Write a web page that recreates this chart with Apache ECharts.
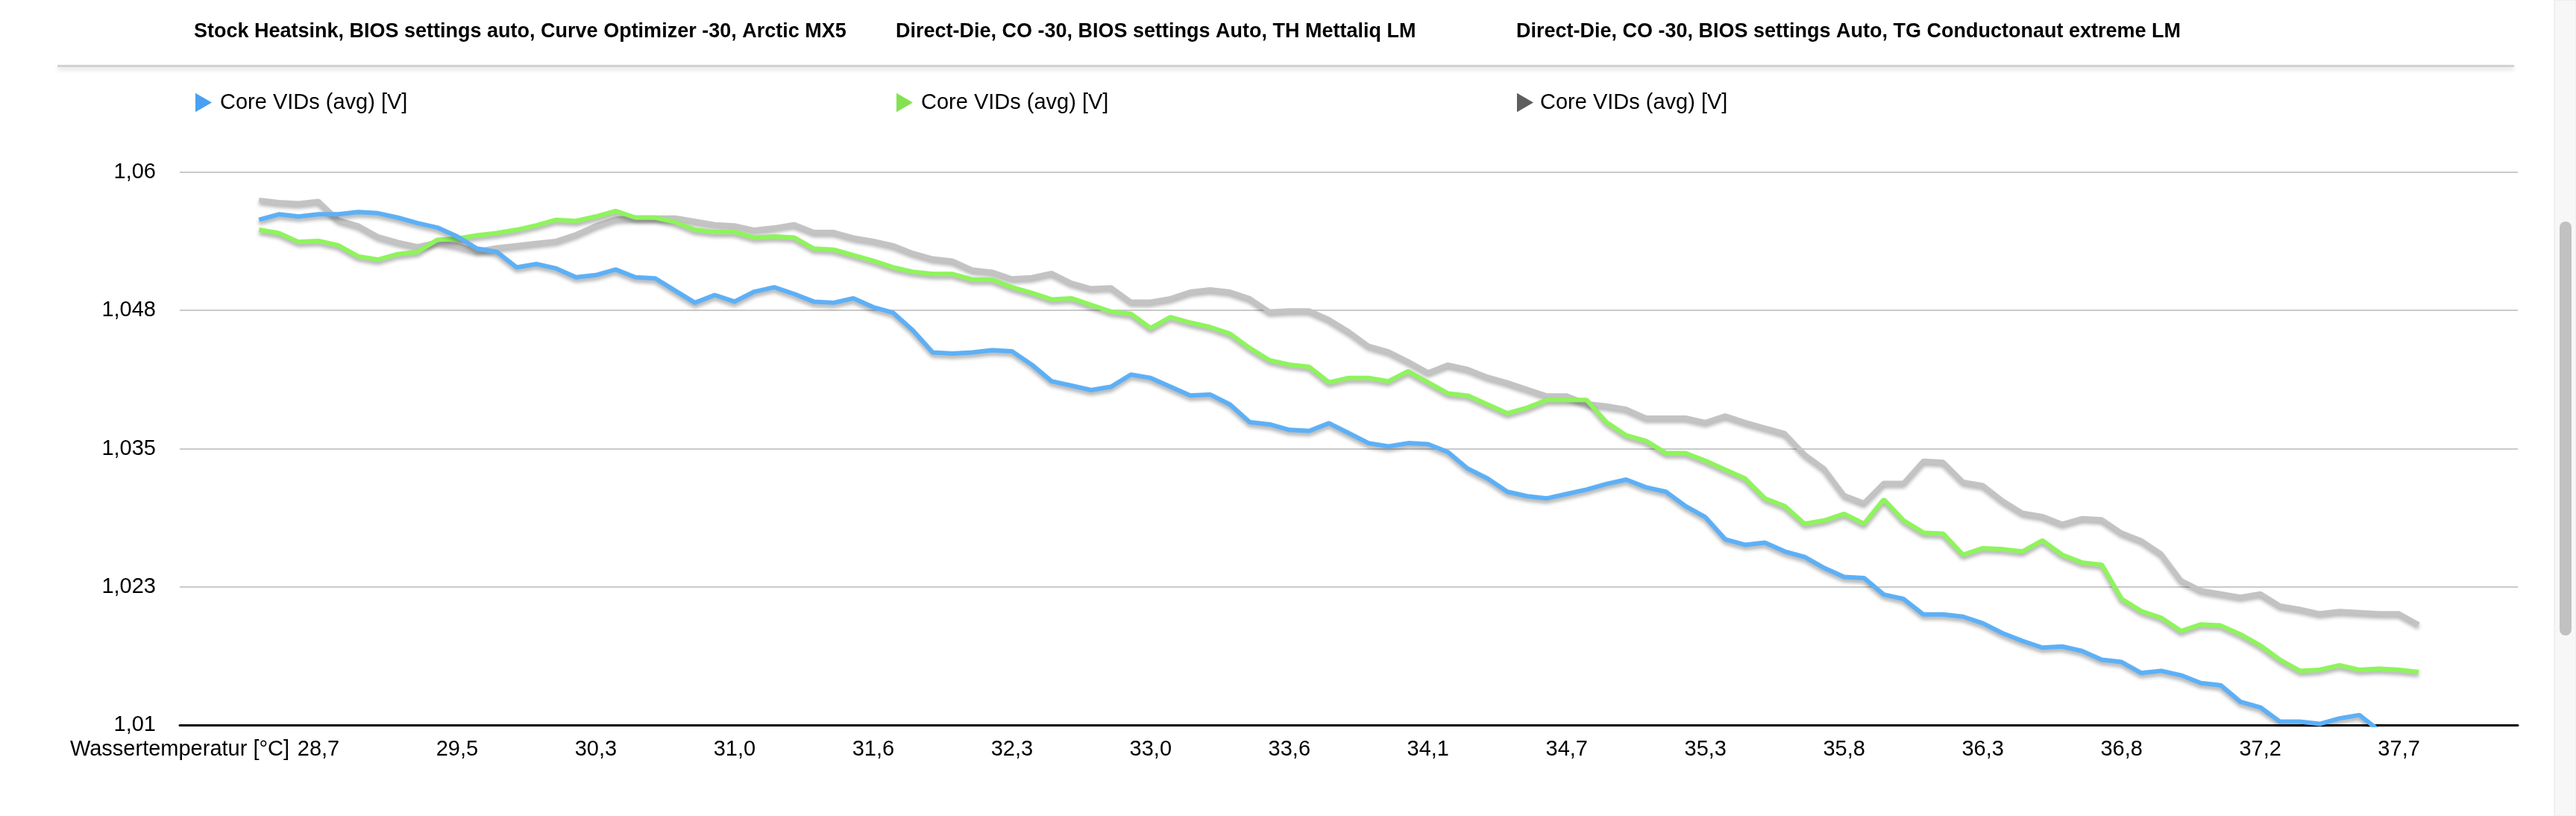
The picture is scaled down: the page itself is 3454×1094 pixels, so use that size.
<!DOCTYPE html>
<html>
<head>
<meta charset="utf-8">
<script src="https://cdn.jsdelivr.net/npm/echarts@6/dist/echarts.min.js"></script>
<style>
  html, body { margin: 0; padding: 0; background: #ffffff; }
  #chart { width: 3454px; height: 1094px; }
</style>
</head>
<body>
<div id="chart"></div>
<script>
// ---------- data ----------
const seriesTitles = [
  'Stock Heatsink, BIOS settings auto, Curve Optimizer -30, Arctic MX5',
  'Direct-Die, CO -30, BIOS settings Auto, TH Mettaliq LM',
  'Direct-Die, CO -30, BIOS settings Auto, TG Conductonaut extreme LM'
];
const legendLabel = 'Core VIDs (avg) [V]';
const xTickLabels = ['Wassertemperatur [°C]', '28,7', '29,5', '30,3', '31,0', '31,6', '32,3', '33,0',
  '33,6', '34,1', '34,7', '35,3', '35,8', '36,3', '36,8', '37,2', '37,7'];
const yTickLabels = ['1,01', '1,023', '1,035', '1,048', '1,06'];
const categoryCount = 119;   // sample slots on the category axis
const labelEvery = 7;        // a temperature label every 7 samples
const firstSample = 4;       // first measured sample slot

// Stock Heatsink, Arctic MX5 (blue)
const stockMX5 = [
  1.0557,1.0562,1.0560,1.0562,1.0562,1.0564,1.0563,1.0559,1.0554,1.0550,
  1.0542,1.0531,1.0528,1.0514,1.0517,1.0513,1.0505,1.0507,1.0512,1.0505,
  1.0504,1.0493,1.0482,1.0489,1.0483,1.0492,1.0496,1.0490,1.0483,1.0482,
  1.0486,1.0478,1.0473,1.0457,1.0437,1.0436,1.0437,1.0439,1.0438,1.0426,
  1.0411,1.0407,1.0403,1.0406,1.0417,1.0414,1.0406,1.0398,1.0399,1.0390,
  1.0374,1.0372,1.0367,1.0366,1.0373,1.0364,1.0355,1.0352,1.0355,1.0354,
  1.0347,1.0332,1.0323,1.0311,1.0307,1.0305,1.0309,1.0313,1.0318,1.0322,
  1.0315,1.0311,1.0298,1.0288,1.0268,1.0263,1.0265,1.0257,1.0252,1.0242,
  1.0234,1.0233,1.0218,1.0214,1.0200,1.0200,1.0198,1.0192,1.0183,1.0176,
  1.0170,1.0171,1.0167,1.0159,1.0157,1.0147,1.0149,1.0145,1.0138,1.0136,
  1.0121,1.0116,1.0103,1.0103,1.0101,1.0106,1.0109,1.0095
];
// Direct-Die, TH Mettaliq LM (green)
const directDieMettaliq = [
  1.0548,1.0545,1.0537,1.0538,1.0534,1.0524,1.0521,1.0526,1.0528,1.0539,
  1.0540,1.0543,1.0545,1.0548,1.0552,1.0557,1.0556,1.0560,1.0565,1.0559,
  1.0559,1.0555,1.0548,1.0546,1.0546,1.0541,1.0542,1.0541,1.0531,1.0530,
  1.0525,1.0520,1.0514,1.0510,1.0508,1.0508,1.0503,1.0503,1.0496,1.0491,
  1.0485,1.0486,1.0480,1.0474,1.0472,1.0459,1.0469,1.0464,1.0460,1.0454,
  1.0441,1.0430,1.0426,1.0424,1.0410,1.0414,1.0414,1.0411,1.0420,1.0410,
  1.0400,1.0398,1.0390,1.0382,1.0387,1.0394,1.0394,1.0394,1.0374,1.0362,
  1.0357,1.0346,1.0346,1.0339,1.0331,1.0323,1.0305,1.0298,1.0282,1.0285,
  1.0291,1.0282,1.0304,1.0285,1.0274,1.0273,1.0254,1.0260,1.0259,1.0257,
  1.0267,1.0254,1.0247,1.0245,1.0214,1.0203,1.0197,1.0185,1.0191,1.0190,
  1.0182,1.0172,1.0159,1.0149,1.0150,1.0154,1.0150,1.0151,1.0150,1.0148
];
// Direct-Die, TG Conductonaut extreme LM (gray)
const directDieConductonaut = [
  1.0575,1.0573,1.0572,1.0574,1.0557,1.0552,1.0542,1.0537,1.0533,1.0537,
  1.0534,1.0529,1.0532,1.0534,1.0536,1.0538,1.0544,1.0552,1.0558,1.0559,
  1.0559,1.0559,1.0556,1.0553,1.0552,1.0548,1.0550,1.0553,1.0546,1.0546,
  1.0541,1.0538,1.0534,1.0527,1.0522,1.0520,1.0512,1.0510,1.0504,1.0505,
  1.0509,1.0500,1.0495,1.0496,1.0483,1.0483,1.0486,1.0492,1.0494,1.0492,
  1.0486,1.0474,1.0475,1.0475,1.0467,1.0456,1.0443,1.0438,1.0429,1.0419,
  1.0426,1.0422,1.0415,1.0410,1.0404,1.0398,1.0398,1.0391,1.0389,1.0386,
  1.0378,1.0378,1.0378,1.0374,1.0380,1.0374,1.0369,1.0364,1.0345,1.0332,
  1.0308,1.0301,1.0319,1.0319,1.0339,1.0338,1.0320,1.0317,1.0303,1.0292,
  1.0289,1.0282,1.0287,1.0286,1.0274,1.0267,1.0255,1.0231,1.0222,1.0219,
  1.0216,1.0219,1.0208,1.0205,1.0201,1.0203,1.0202,1.0201,1.0201,1.0191
];
const seriesValues = [stockMX5, directDieMettaliq, directDieConductonaut];

// ---------- build ----------
const categories = [];
for (let i = 0; i < categoryCount; i++) {
  const lbl = (i % labelEvery === 0) ? xTickLabels[i / labelEvery] : undefined;
  categories.push(lbl !== undefined ? lbl : '');
}
function pad(values) {
  const out = [];
  for (let i = 0; i < firstSample; i++) out.push(null);
  return out.concat(values);
}

const FONT = '"Liberation Sans", Arial, Helvetica, sans-serif';
const lineColors = ['#5db0f6', '#8ef45c', '#c3c3c3'];
const legendColors = ['#4aa0f2', '#84e252', '#5e5e5e'];
const names = seriesTitles.map(t => legendLabel + ' – ' + t);
const titleLefts = [260, 1201, 2033];
const legendLefts = [262, 1202, 2034];

const chart = echarts.init(document.getElementById('chart'), null, { renderer: 'canvas' });

const option = {
  animation: false,
  backgroundColor: '#ffffff',
  title: seriesTitles.map((t, i) => ({
    text: t,
    left: titleLefts[i],
    top: 29,
    padding: 0,
    textStyle: { fontFamily: FONT, fontSize: 27, fontWeight: 'bold', color: '#000000' }
  })),
  legend: names.map((n, i) => ({
    left: legendLefts[i],
    top: 123,
    padding: 0,
    itemWidth: 22,
    itemHeight: 26,
    selectedMode: false,
    data: [{ name: n, icon: 'path://M0,0 L12,7 L0,14 Z', itemStyle: { color: legendColors[i] } }],
    formatter: () => legendLabel,
    textStyle: { fontFamily: FONT, fontSize: 29, color: '#000000', padding: [0, 0, 0, i === 2 ? 4 : 6] }
  })),
  grid: { left: 241, right: 78, top: 231, bottom: 122, containLabel: false },
  xAxis: {
    type: 'category',
    data: categories,
    boundaryGap: false,
    axisLine: { show: true, lineStyle: { color: '#000000', width: 3 } },
    axisTick: { show: false },
    axisLabel: { interval: 0, margin: 18, fontFamily: FONT, fontSize: 29, color: '#000000' },
    splitLine: { show: false }
  },
  yAxis: {
    type: 'value',
    min: 1.01,
    max: 1.06,
    interval: 0.0125,
    axisLine: { show: false },
    axisTick: { show: false },
    axisLabel: {
      margin: 32, fontFamily: FONT, fontSize: 29, color: '#000000',
      formatter: (v, i) => yTickLabels[i] !== undefined ? yTickLabels[i] : ''
    },
    splitLine: { show: true, lineStyle: { color: '#cacaca', width: 2 } }
  },
  graphic: [
    { type: 'rect', shape: { x: 77, y: 87, width: 3294, height: 3 },
      style: { fill: '#d2d2d2', shadowBlur: 6, shadowOffsetY: 3, shadowColor: 'rgba(0,0,0,0.18)' }, silent: true },
    { type: 'rect', shape: { x: 3425, y: 0, width: 29, height: 1094 },
      style: { fill: '#f7f7f7', stroke: '#e6e6e6', lineWidth: 1 }, silent: true },
    { type: 'rect', shape: { x: 3432, y: 297, width: 16, height: 555, r: 8 },
      style: { fill: '#c1c1c1' }, silent: true }
  ],
  // drawn order: gray first, then green, blue on top
  series: [2, 1, 0].map(i => ({
    name: names[i],
    type: 'line',
    data: pad(seriesValues[i]),
    showSymbol: false,
    symbol: 'none',
    clip: true,
    z: 3 - i,
    lineStyle: {
      color: lineColors[i], width: 6,
      shadowColor: 'rgba(0,0,0,0.32)', shadowBlur: 5, shadowOffsetY: 4
    },
    itemStyle: { color: lineColors[i] }
  }))
};
chart.setOption(option);
</script>
</body>
</html>
